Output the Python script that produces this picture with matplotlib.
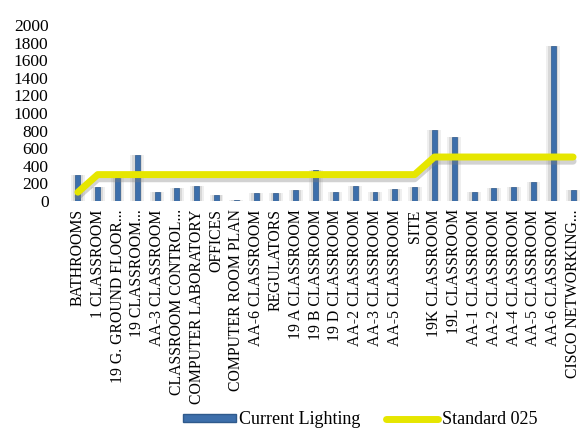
import matplotlib
matplotlib.use("Agg")
import matplotlib.pyplot as plt
import matplotlib.patheffects as pe
from matplotlib.patches import Patch
from matplotlib.lines import Line2D
import numpy as np

plt.rcParams['font.family'] = ['Liberation Serif', 'DejaVu Serif']

# 데이터
rooms = ["BATHROOMS", "1 CLASSROOM", "19 G. GROUND FLOOR...", "19 CLASSROOM...",
         "AA-3 CLASSROOM", "CLASSROOM CONTROL...", "COMPUTER LABORATORY", "OFFICES",
         "COMPUTER ROOM PLAN", "AA-6 CLASSROOM", "REGULATORS", "19 A CLASSROOM",
         "19 B CLASSROOM", "19 D CLASSROOM", "AA-2 CLASSROOM", "AA-3 CLASSROOM",
         "AA-5 CLASSROOM", "SITE", "19K CLASSROOM", "19L CLASSROOM", "AA-1 CLASSROOM",
         "AA-2 CLASSROOM", "AA-4 CLASSROOM", "AA-5 CLASSROOM", "AA-6 CLASSROOM",
         "CISCO NETWORKING..."]
current = [295, 160, 260, 523, 100, 145, 175, 70, 15, 95, 95, 125,
           350, 105, 170, 98, 136, 155, 807, 730, 105, 143, 155, 220, 1761, 125]
standard = [100, 300, 300, 300, 300, 300, 300, 300, 300, 300, 300, 300,
            300, 300, 300, 300, 300, 300, 500, 500, 500, 500, 500, 500, 500, 500]

x = np.arange(len(rooms))
blue = '#3D6FAB'
yellow = '#E6E600'

fig = plt.figure(figsize=(5.81, 4.28), dpi=100)
ax = fig.add_axes([68/581, (428-201)/428, (581-68)/581, 176/428])

# 그림자 효과
cur = np.array(current)
ax.bar(x, cur + 45, bottom=-45, width=0.7, color='gray', alpha=0.12, zorder=1)
ax.bar(x, cur + 25, bottom=-25, width=0.5, color='gray', alpha=0.2, zorder=1)
ax.bar(x, current, width=0.25, color=blue, edgecolor='#2F5A8C', linewidth=0.5, zorder=2)

ax.plot(x, standard, color=yellow, linewidth=5, solid_capstyle='round', zorder=3,
        path_effects=[pe.SimpleLineShadow(offset=(0, -3), shadow_color='gray', alpha=0.35),
                      pe.Normal()])

ax.set_xlim(-0.5, 25.4)
ax.set_ylim(0, 2000)
ax.set_yticks(range(0, 2001, 200))
ax.tick_params(axis='y', length=0, pad=14, labelsize=12.5)
ax.set_xticks(x)
ax.set_xticklabels(rooms, rotation=90, fontsize=11.3)
ax.tick_params(axis='x', length=0, pad=6)
for s in ax.spines.values():
    s.set_visible(False)

handles = [Patch(facecolor=blue, edgecolor='#2F5A8C'),
           Line2D([0], [0], color=yellow, linewidth=5, solid_capstyle='round')]
fig.legend(handles, ["Current Lighting", "Standard 025"], loc='center',
           bbox_to_anchor=(0.62, 8/428), ncol=2, frameon=False, fontsize=13,
           handlelength=2.9, handleheight=0.35, columnspacing=1.4, handletextpad=0.2)

fig.savefig("out.png", dpi=100)
